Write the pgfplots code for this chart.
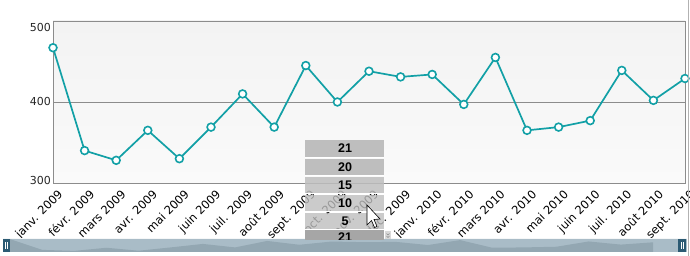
\documentclass[border=0pt]{standalone}
\usepackage{pgfplots}
\pgfplotsset{compat=1.18}
\usepackage{fontspec}
\setmainfont{DejaVu Sans}
\newfontfamily\ddfont{Liberation Sans}
\definecolor{teal1}{HTML}{12A0A6}
\definecolor{bgtop}{HTML}{F3F3F3}
\definecolor{bgbot}{HTML}{FAFAFA}
\definecolor{frame}{HTML}{8C8C8C}
\definecolor{ddgray}{HTML}{BEBEBE}
\definecolor{ddlast}{HTML}{A6A6A6}
\definecolor{sbar}{HTML}{A9BCC7}
\definecolor{sarea}{HTML}{93A7B2}
\definecolor{shandle}{HTML}{2B5A73}
\pgfplotstableread{
x y
0 467
1 340
2 328
3 365
4 330
5 369
6 410
7 369
8 445
9 400
10 438
11 431
12 434
13 397
14 455
15 365
16 369
17 377
18 439
19 402
20 429
}\datatable
\begin{document}
\begin{tikzpicture}[x=1pt,y=1pt]
\path[use as bounding box] (0,0) rectangle (690,256);
\begin{axis}[
  at={(53pt,73pt)}, anchor=south west,
  scale only axis, width=632pt, height=162pt,
  xmin=0, xmax=20, ymin=300, ymax=500,
  axis line style={frame},
  axis background/.style={top color=bgtop, bottom color=bgbot},
  xtick={0,...,20},
  xticklabels={janv. 2009,févr. 2009,mars 2009,avr. 2009,mai 2009,juin 2009,juil. 2009,août 2009,sept. 2009,oct. 2009,nov. 2009,déc. 2009,janv. 2010,févr. 2010,mars 2010,avr. 2010,mai 2010,juin 2010,juil. 2010,août 2010,sept. 2010},
  xticklabel style={rotate=45, anchor=north east, font=\fontsize{11.5}{11.5}\selectfont, inner sep=1pt, xshift=0pt, yshift=-6pt},
  ytick={303.5,400,491.5},
  yticklabels={300,400,500},
  yticklabel style={font=\fontsize{11}{11}\selectfont, text=black!85, inner sep=2pt},
  major tick length=0pt,
  extra y ticks={400},
  extra y tick labels={},
  extra y tick style={grid=major, major grid style={frame, line width=0.8pt}},
  /pgf/number format/assume math mode=true,
  clip=false,
]
\addplot[teal1, line width=1.7pt, mark=*, mark size=3.9pt,
  mark options={fill=white, draw=teal1, line width=1.6pt}] table[x=x,y=y] {\datatable};
\end{axis}
% scrollbar
\fill[sbar] (3,4) rectangle (687,17);
\draw[white!88!sbar, line width=1pt] (3,17.5) -- (687,17.5);
\begin{axis}[
  at={(10pt,4pt)}, anchor=south west,
  scale only axis, width=643pt, height=13pt,
  xmin=0, xmax=20, ymin=315, ymax=468,
  hide axis, clip=true,
]
\addplot[fill=sarea, draw=none] table[x=x,y=y] {\datatable} \closedcycle;
\end{axis}
\fill[shandle] (3,4) rectangle (10,17);
\draw[white, line width=0.6pt] (5.6,7) -- (5.6,14) (7.4,7) -- (7.4,14);
\fill[shandle] (678,4) rectangle (686,17);
\draw[white, line width=0.6pt] (681,7) -- (681,14) (683,7) -- (683,14);
% frame line
\draw[black!30, line width=0.8pt] (688.5,0) -- (688.5,256);
% dropdown
\begin{scope}[font=\ddfont\bfseries\fontsize{12.5}{12.5}\selectfont]
\fill[ddgray] (305,99) rectangle (384,116);
\node at (345,107.5) {21};
\fill[ddgray] (305,81) rectangle (384,97);
\node at (345,89) {20};
\fill[ddgray, fill opacity=0.85] (305,63) rectangle (384,79);
\node at (345,71) {15};
\fill[ddgray, fill opacity=0.8] (305,45) rectangle (384,61);
\node at (345,53) {10};
\fill[ddgray, fill opacity=0.8] (305,27) rectangle (384,43);
\node at (345,35) {5};
\draw[white, line width=1pt] (305,98) -- (384,98) (305,80) -- (384,80) (305,62) -- (384,62) (305,44) -- (384,44) (305,26) -- (384,26);
\begin{scope}
\clip (305,16) rectangle (384,25.5);
\fill[ddlast] (305,16) rectangle (384,25.5);
\node at (345,18.5) {21};
\end{scope}
\fill[black!15] (385,17) rectangle (391,25);
\draw[black!45, line width=0.5pt] (386.5,22.5) -- (388,21) -- (389.5,22.5) (386.5,20) -- (388,18.5) -- (389.5,20);
% cursor
\fill[white] (367,51) -- (367,31) -- (371.5,35.5) -- (374.5,28.5) -- (377,29.5) -- (374,36.5) -- (380,37) -- cycle;
\draw[black, line width=0.6pt] (367,51) -- (367,31) -- (371.5,35.5) -- (374.5,28.5) -- (377,29.5) -- (374,36.5) -- (380,37) -- cycle;
\end{scope}
\end{tikzpicture}
\end{document}
